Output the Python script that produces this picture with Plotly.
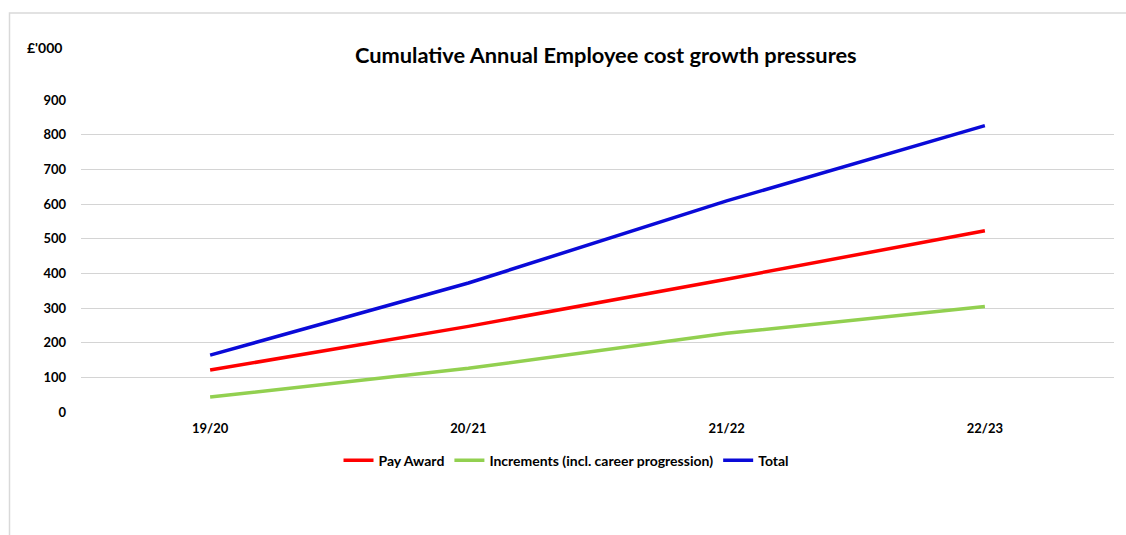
import plotly.graph_objects as go

categories = ["19/20", "20/21", "21/22", "22/23"]
pay_award = [121, 247, 383, 523]
increments = [43, 126, 227, 304]
total = [164, 372, 609, 826]
y_ticks = [0, 100, 200, 300, 400, 500, 600, 700, 800, 900]

FONT = "Lato"

fig = go.Figure()
fig.add_trace(go.Scatter(x=categories, y=pay_award, mode="lines", name="Pay Award",
                         line=dict(color="#ff0000", width=3.5)))
fig.add_trace(go.Scatter(x=categories, y=increments, mode="lines",
                         name="Increments (incl. career progression)",
                         line=dict(color="#92d050", width=3.5)))
fig.add_trace(go.Scatter(x=categories, y=total, mode="lines", name="Total",
                         line=dict(color="#0a0ad8", width=3.5)))

fig.update_layout(
    width=1126, height=535,
    margin=dict(l=81, r=12, t=100, b=123),
    paper_bgcolor="white", plot_bgcolor="white",
    font=dict(family=FONT, color="black"),
    title=dict(text="<b>Cumulative Annual Employee cost growth pressures</b>",
               x=0.538, xanchor="center", y=0.897, yanchor="middle",
               font=dict(size=21.8, family=FONT, color="black")),
    xaxis=dict(type="category", range=[-0.5, 3.5], showgrid=False, zeroline=False,
               showline=False, ticks="",
               tickfont=dict(size=13, family=FONT, weight="bold"),
               ticklabelstandoff=7),
    yaxis=dict(range=[0, 900], tickvals=y_ticks, showgrid=True, gridcolor="#d4d4d4",
               gridwidth=1.3, zeroline=False, showline=False, ticks="",
               tickfont=dict(size=13, family=FONT, weight="bold"), ticklabelstandoff=14),
    showlegend=True,
    legend=dict(orientation="h", x=0.47, xanchor="center", y=-0.105, yanchor="top",
                font=dict(size=14, family=FONT, weight="bold"), itemwidth=30,
                tracegroupgap=0),
)

fig.add_annotation(text="<b>£'000</b>", xref="paper", yref="paper",
                   x=(44 - 81) / 1033, y=(412 - 48) / 312, xanchor="center",
                   yanchor="middle", showarrow=False, font=dict(size=14, family=FONT))

# chart-area border
fig.add_shape(type="rect", xref="paper", yref="paper",
              x0=(9.5 - 81) / 1033, x1=(1140 - 81) / 1033,
              y0=(412 - 560) / 312, y1=(412 - 13) / 312,
              line=dict(color="#d9d9d9", width=1.5), layer="below")

fig.write_html("out.html")
